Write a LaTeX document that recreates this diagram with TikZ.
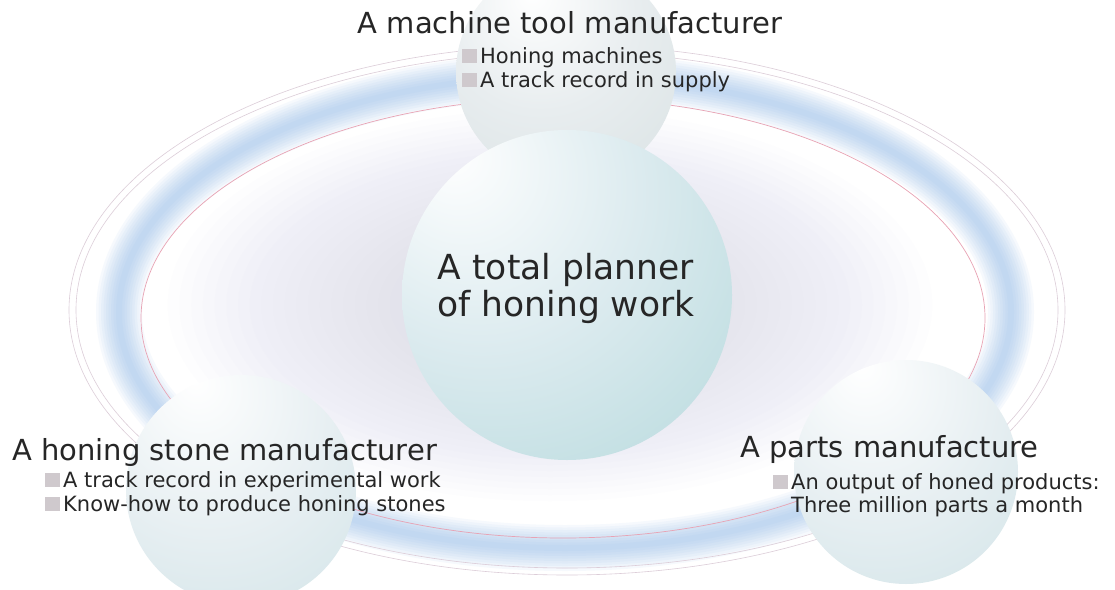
\documentclass[tikz,border=0pt]{standalone}
\usepackage{fontspec}
\setmainfont{DejaVu Sans}

\definecolor{ink}{HTML}{262626}
\definecolor{markgray}{HTML}{CFC9CD}
\definecolor{glow}{HTML}{8DB9E8}
\definecolor{rimpink}{HTML}{E8A3B4}
\definecolor{rimgray}{HTML}{DCCDD8}
\definecolor{lavender}{HTML}{D8D8EC}
\definecolor{orbtopmid}{HTML}{E8EDEF}
\definecolor{orbtopedge}{HTML}{D2DDDE}
\definecolor{orbmainmid}{HTML}{DCEBEF}
\definecolor{orbmainedge}{HTML}{A4D1D4}
\definecolor{orbsidemid}{HTML}{E7EFF2}
\definecolor{orbsideedge}{HTML}{C6DEE2}

\pgfdeclareradialshading{orbtop}{\pgfpoint{-8bp}{18bp}}{color(0bp)=(white); color(22bp)=(orbtopmid); color(56bp)=(orbtopedge); color(80bp)=(orbtopedge)}
\pgfdeclareradialshading{orbmain}{\pgfpoint{-18bp}{22bp}}{color(0bp)=(white); color(24bp)=(orbmainmid); color(62bp)=(orbmainedge); color(85bp)=(orbmainedge)}
\pgfdeclareradialshading{orbside}{\pgfpoint{-10bp}{24bp}}{color(0bp)=(white); color(26bp)=(orbsidemid); color(62bp)=(orbsideedge); color(85bp)=(orbsideedge)}

\newcommand{\sqmark}{\textcolor{markgray}{\rule{15pt}{14pt}}\hspace{3pt}}

\begin{document}
\begin{tikzpicture}[x=1pt,y=-1pt]
    \tikzstyle{orb}=[circle, inner sep=0pt, shade]
    \tikzstyle{headline}=[font=\fontsize{29}{32}\selectfont, text=ink, inner sep=0pt]
    \tikzstyle{subline}=[font=\fontsize{21}{24}\selectfont, text=ink, inner sep=0pt, anchor=base west]

    \useasboundingbox (0,0) rectangle (1115,589);
    \fill[white] (0,0) rectangle (1115,589);

    % ring
    \foreach \s in {0.98,0.95,...,0.4} {
        \fill[lavender, opacity=0.045] (550,305) ellipse [x radius=\s*390pt, y radius=\s*200pt];
    }
    \foreach \w in {46,41,...,6} {
        \draw[line width=\w pt, glow, opacity=0.075] (565,312) ellipse [x radius=446pt, y radius=236pt];
    }
    \draw[line width=0.7pt, rimpink] (563,318) ellipse [x radius=422pt, y radius=220pt];
    \draw[line width=0.6pt, rimgray] (567,310) ellipse [x radius=498pt, y radius=265pt];
    \draw[line width=0.6pt, rimgray] (567,310) ellipse [x radius=491pt, y radius=258pt];

    % spheres
    \node[orb, shading=orbtop, minimum size=220pt] (tool) at (566,72) {};
    \node[orb, shading=orbside, minimum size=230pt] (stone) at (241,490) {};
    \node[orb, shading=orbside, minimum size=224pt] (parts) at (906,472) {};
    \node[orb, shading=orbmain, minimum size=330pt] (planner) at (567,295) {};

    % texts
    \node[font=\fontsize{34.5}{37}\selectfont, text=ink, align=center] (plannertext) at (566,288) {A total planner\\of honing work};

    \node[headline, anchor=base] (tooltitle) at (570,33) {A machine tool manufacturer};
    \node[subline] (toolone) at (462,63) {\sqmark Honing machines};
    \node[subline] (tooltwo) at (462,87) {\sqmark A track record in supply};

    \node[headline, anchor=base west] (stonetitle) at (12,460) {A honing stone manufacturer};
    \node[subline] (stoneone) at (45,487) {\sqmark A track record in experimental work};
    \node[subline] (stonetwo) at (45,511) {\sqmark Know-how to produce honing stones};

    \node[headline, anchor=base west] (partstitle) at (740,457) {A parts manufacture};
    \node[subline] (partsone) at (773,489) {\sqmark An output of honed products:};
    \node[subline] (partstwo) at (791,512) {Three million parts a month};
\end{tikzpicture}
\end{document}
